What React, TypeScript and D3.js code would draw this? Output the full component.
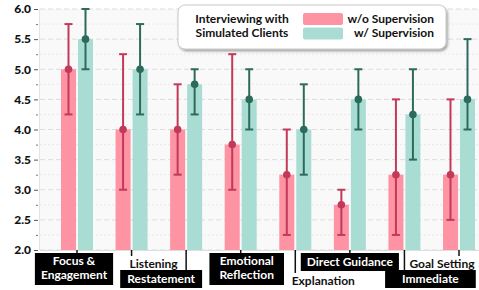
import { useEffect, useRef } from "react";
import * as d3 from "d3";

const categories = [
  "Focus & Engagement",
  "Listening",
  "Restatement",
  "Emotional Reflection",
  "Explanation",
  "Direct Guidance",
  "Immediate",
  "Goal Setting",
];
const labelLines = [
  ["Focus &", "Engagement"],
  ["Listening"],
  ["Restatement"],
  ["Emotional", "Reflection"],
  ["Explanation"],
  ["Direct Guidance"],
  ["Immediate"],
  ["Goal Setting"],
];

const withoutMean = [5.0, 4.0, 4.0, 3.75, 3.25, 2.75, 3.25, 3.25];
const withoutLow = [4.25, 3.0, 3.25, 3.0, 2.25, 2.25, 2.25, 2.5];
const withoutHigh = [5.75, 5.25, 4.75, 5.25, 4.0, 3.0, 4.5, 4.5];

const withMean = [5.5, 5.0, 4.75, 4.5, 4.0, 4.5, 4.25, 4.5];
const withLow = [5.0, 4.25, 4.25, 4.0, 3.25, 4.0, 3.5, 4.0];
const withHigh = [6.0, 5.75, 5.0, 5.0, 4.75, 5.0, 5.0, 5.5];

const yTicks = [2.0, 2.5, 3.0, 3.5, 4.0, 4.5, 5.0, 5.5, 6.0];
const legendTitle = ["Interviewing with", "Simulated Clients"];
const seriesNames = ["w/o Supervision", "w/ Supervision"];

// label placement (dx from tick, top of label, boxed or plain, box padding)
const labelLayout = [
  { dx: -3, top: 253, boxed: true, pad: 12 },
  { dx: 22, top: 256, boxed: false, pad: 12 },
  { dx: -25, top: 270, boxed: true, pad: 14 },
  { dx: 6, top: 253, boxed: true, pad: 20 },
  { dx: 28, top: 273, boxed: false, pad: 12 },
  { dx: 0, top: 253, boxed: true, pad: 12 },
  { dx: 26, top: 270, boxed: true, pad: 34 },
  { dx: -17, top: 256, boxed: false, pad: 12 },
];

const FONT = "Lato, 'DejaVu Sans', sans-serif";
const FS = 12;

export default function App() {
  const svgRef = useRef<SVGSVGElement | null>(null);

  useEffect(() => {
    if (!svgRef.current) return;
    const W = 479;
    const H = 290;
    const plot = { left: 40, right: 479, top: 9, bottom: 250 };

    d3.select(svgRef.current).selectAll("*").remove();
    const svg = d3.select(svgRef.current).attr("width", W).attr("height", H);

    const defs = svg.append("defs");
    const filt = defs
      .append("filter")
      .attr("id", "shadow")
      .attr("x", "-10%")
      .attr("y", "-20%")
      .attr("width", "130%")
      .attr("height", "160%");
    filt
      .append("feDropShadow")
      .attr("dx", 1.5)
      .attr("dy", 2)
      .attr("stdDeviation", 1.2)
      .attr("flood-color", "#000")
      .attr("flood-opacity", 0.35);

    const x = d3.scalePoint<string>().domain(categories).range([77, 459]);
    const y = d3.scaleLinear().domain([2, 6]).range([plot.bottom, plot.top]);

    // background
    svg
      .append("rect")
      .attr("x", plot.left)
      .attr("y", plot.top)
      .attr("width", plot.right - plot.left)
      .attr("height", plot.bottom - plot.top)
      .attr("fill", "#f9f9f9");

    // grid
    const minor = d3.range(2.25, 6, 0.5);
    svg
      .append("g")
      .selectAll("line")
      .data(minor)
      .enter()
      .append("line")
      .attr("x1", plot.left)
      .attr("x2", plot.right)
      .attr("y1", (d) => y(d))
      .attr("y2", (d) => y(d))
      .attr("stroke", "#e6e6e6")
      .attr("stroke-width", 0.8)
      .attr("stroke-dasharray", "2,2");
    svg
      .append("g")
      .selectAll("line")
      .data(yTicks)
      .enter()
      .append("line")
      .attr("x1", plot.left)
      .attr("x2", plot.right)
      .attr("y1", (d) => y(d))
      .attr("y2", (d) => y(d))
      .attr("stroke", "#dcdcdc")
      .attr("stroke-width", 1)
      .attr("stroke-dasharray", "5,3");

    svg
      .append("line")
      .attr("x1", plot.left - 0.5)
      .attr("x2", plot.left - 0.5)
      .attr("y1", plot.top)
      .attr("y2", plot.bottom)
      .attr("stroke", "#e4e4e4");
    svg
      .append("line")
      .attr("x1", plot.left)
      .attr("x2", plot.right)
      .attr("y1", plot.bottom + 0.5)
      .attr("y2", plot.bottom + 0.5)
      .attr("stroke", "#ddd");

    // y axis
    const yAxis = svg
      .append("g")
      .attr("transform", `translate(${plot.left - 2},0)`)
      .call(
        d3
          .axisLeft(y)
          .tickValues(yTicks)
          .tickFormat(d3.format(".1f"))
          .tickSize(4)
          .tickPadding(3)
      );
    yAxis.select(".domain").remove();
    yAxis.selectAll("line").attr("stroke", "#555");
    yAxis
      .selectAll("text")
      .attr("font-family", FONT)
      .attr("font-weight", "900")
      .attr("font-size", FS)
      .attr("fill", "#111");
    const yMinor = svg
      .append("g")
      .attr("transform", `translate(${plot.left - 2},0)`)
      .call(d3.axisLeft(y).tickValues(minor).tickFormat(() => "").tickSize(2));
    yMinor.select(".domain").remove();
    yMinor.selectAll("line").attr("stroke", "#777");

    const series = [
      {
        mean: withoutMean,
        low: withoutLow,
        high: withoutHigh,
        off: -16,
        fill: "#fd93a3",
        stroke: "#c2395a",
      },
      {
        mean: withMean,
        low: withLow,
        high: withHigh,
        off: 1,
        fill: "#a9ddd4",
        stroke: "#2c6b5c",
      },
    ];
    const bw = 15;

    series.forEach((s) => {
      const g = svg.append("g");
      const cx = (i: number) => x(categories[i])! + s.off + bw / 2;
      g.selectAll("rect")
        .data(s.mean)
        .enter()
        .append("rect")
        .attr("x", (_, i) => x(categories[i])! + s.off)
        .attr("y", (d) => y(d))
        .attr("width", bw)
        .attr("height", (d) => plot.bottom - y(d))
        .attr("fill", s.fill);
      s.mean.forEach((m, i) => {
        const c = cx(i);
        g.append("line")
          .attr("x1", c)
          .attr("x2", c)
          .attr("y1", y(s.low[i]))
          .attr("y2", y(s.high[i]))
          .attr("stroke", s.stroke)
          .attr("stroke-width", 2);
        [s.low[i], s.high[i]].forEach((v) => {
          g.append("line")
            .attr("x1", c - 4)
            .attr("x2", c + 4)
            .attr("y1", y(v))
            .attr("y2", y(v))
            .attr("stroke", s.stroke)
            .attr("stroke-width", 2);
        });
        g.append("circle")
          .attr("cx", c)
          .attr("cy", y(m))
          .attr("r", 3.8)
          .attr("fill", s.stroke);
      });
    });

    // x labels
    categories.forEach((cat, i) => {
      const lay = labelLayout[i];
      const tx = x(cat)!;
      const lines = labelLines[i];
      svg
        .append("line")
        .attr("x1", tx)
        .attr("x2", tx)
        .attr("y1", plot.bottom)
        .attr("y2", lay.top)
        .attr("stroke", "#111")
        .attr("stroke-width", 1.5);
      const cx = tx + lay.dx;
      const g = svg.append("g");
      const box = g.append("rect");
      const texts = lines.map((ln, k) =>
        g
          .append("text")
          .attr("x", cx)
          .attr("y", lay.top + 12 + k * 14 + (lay.boxed && lines.length === 1 ? 1 : 0))
          .attr("text-anchor", "middle")
          .attr("font-family", FONT)
          .attr("font-weight", "bold")
          .attr("font-size", FS)
          .attr("fill", lay.boxed ? "#fff" : "#111")
          .text(ln)
      );
      const wMax =
        d3.max(texts, (t) => (t.node() as SVGTextElement).getComputedTextLength()) || 0;
      const bwid = wMax + lay.pad;
      box
        .attr("x", cx - bwid / 2)
        .attr("y", lay.top)
        .attr("width", bwid)
        .attr("height", lines.length * 14 + 4)
        .attr("fill", lay.boxed ? "#000" : "none");
    });

    // legend
    const lg = svg.append("g");
    lg.append("rect")
      .attr("x", 178)
      .attr("y", 5)
      .attr("width", 268)
      .attr("height", 44)
      .attr("rx", 7)
      .attr("fill", "#fff")
      .attr("stroke", "#bbb")
      .attr("stroke-width", 0.8)
      .attr("filter", "url(#shadow)");
    legendTitle.forEach((t, k) => {
      lg.append("text")
        .attr("x", 242)
        .attr("y", 23 + k * 14)
        .attr("text-anchor", "middle")
        .attr("font-family", FONT)
        .attr("font-weight", "bold")
        .attr("font-size", FS)
        .attr("fill", "#111")
        .text(t);
    });
    seriesNames.forEach((name, k) => {
      lg.append("rect")
        .attr("x", 303)
        .attr("y", 13 + k * 14.5)
        .attr("width", 40)
        .attr("height", 12)
        .attr("rx", 2)
        .attr("fill", series[k].fill);
      lg.append("text")
        .attr("x", 434)
        .attr("y", 23 + k * 14)
        .attr("text-anchor", "end")
        .attr("font-family", FONT)
        .attr("font-weight", "bold")
        .attr("font-size", FS)
        .attr("fill", "#111")
        .text(name);
    });
  }, []);

  return (
    <svg
      ref={svgRef}
      style={{ position: "absolute", left: 0, top: 0, display: "block" }}
    />
  );
}
